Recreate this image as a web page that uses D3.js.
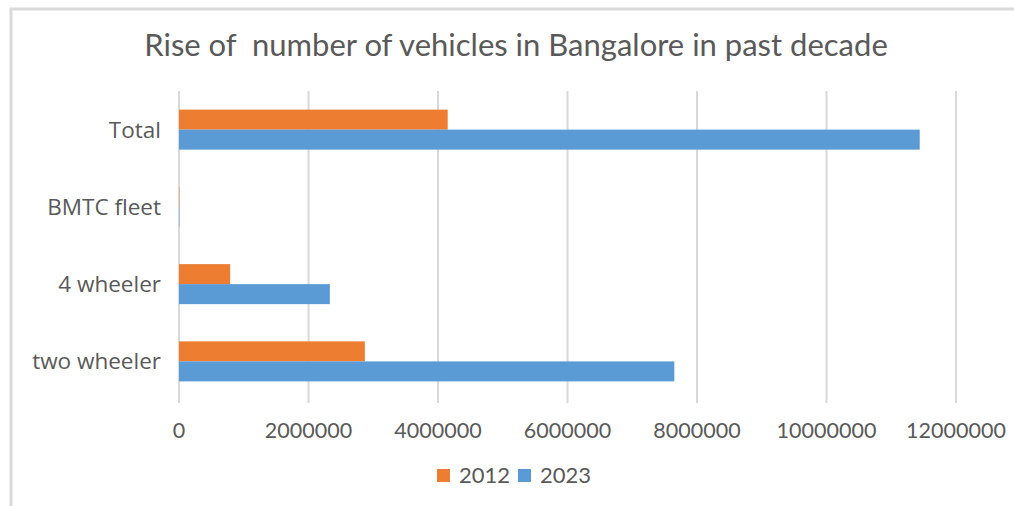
<!DOCTYPE html>
<html>
<head>
<meta charset="utf-8">
<script src="https://cdn.jsdelivr.net/npm/d3@7"></script>
<style>
  body { margin: 0; background: #fff; }
  text { font-family: Lato, "Open Sans", sans-serif; fill: #595959; }
</style>
</head>
<body>
<div id="chart"></div>
<script>
// Vehicle counts
const categories = ["Total", "BMTC fleet", "4 wheeler", "two wheeler"];
const seriesNames = ["2012", "2023"];
const values2012 = [4150000, 6400, 790000, 2870000];
const values2023 = [11440000, 6500, 2330000, 7650000];
const tickValues = [0, 2000000, 4000000, 6000000, 8000000, 10000000, 12000000];
const colors = ["#ED7D31", "#5B9BD5"];

const width = 1014;
const height = 506;
const margin = { top: 91, right: 58, bottom: 103, left: 179 };

const svg = d3.select("#chart")
    .append("svg")
    .attr("width", width)
    .attr("height", height);

// outer frame (only top and left edges visible)
svg.append("path")
    .attr("d", `M11,${height} V9 H${width}`)
    .attr("fill", "none")
    .attr("stroke", "#d9d9d9")
    .attr("stroke-width", 3);

const x = d3.scaleLinear()
    .domain([0, 12000000])
    .range([margin.left, width - margin.right]);

const y = d3.scaleBand()
    .domain(categories)
    .range([margin.top, 400])
    .paddingInner(0.482)
    .paddingOuter(0.241);

const ySub = d3.scaleBand()
    .domain(seriesNames)
    .range([0, y.bandwidth()]);

// gridlines
svg.append("g")
    .selectAll("line")
    .data(tickValues)
    .join("line")
    .attr("x1", d => x(d))
    .attr("x2", d => x(d))
    .attr("y1", margin.top)
    .attr("y2", height - margin.bottom)
    .attr("stroke", "#d9d9d9")
    .attr("stroke-width", 2);

// bars
const rows = categories.map((c, i) => ({ cat: c, vals: [values2012[i], values2023[i]] }));
const groups = svg.append("g")
    .selectAll("g")
    .data(rows)
    .join("g")
    .attr("transform", d => `translate(0,${y(d.cat)})`);

groups.selectAll("rect")
    .data(d => d.vals.map((v, j) => ({ v, s: seriesNames[j], j })))
    .join("rect")
    .attr("x", x(0))
    .attr("y", d => ySub(d.s))
    .attr("width", d => x(d.v) - x(0))
    .attr("height", ySub.bandwidth())
    .attr("fill", d => colors[d.j]);

// category labels
svg.append("g")
    .selectAll("text")
    .data(categories)
    .join("text")
    .attr("x", 161)
    .attr("y", d => y(d) + y.bandwidth() / 2)
    .attr("dy", "0.35em")
    .attr("text-anchor", "end")
    .style("font-family", "'Open Sans', sans-serif")
    .style("font-size", "22.5px")
    .text(d => d);

// x tick labels
svg.append("g")
    .selectAll("text")
    .data(tickValues)
    .join("text")
    .attr("x", d => x(d))
    .attr("y", 438)
    .attr("text-anchor", "middle")
    .style("font-size", "21.5px")
    .text(d => d3.format("d")(d));

// title
svg.append("text")
    .attr("x", 516)
    .attr("y", 56)
    .attr("text-anchor", "middle")
    .style("font-size", "31px")
    .style("white-space", "pre")
    .text("Rise of  number of vehicles in Bangalore in past decade");

// legend
const legend = svg.append("g").attr("transform", "translate(437,469)");
const legendItems = legend.selectAll("g")
    .data(seriesNames)
    .join("g")
    .attr("transform", (d, i) => `translate(${i * 81},0)`);
legendItems.append("rect")
    .attr("width", 13)
    .attr("height", 13)
    .attr("fill", (d, i) => colors[i]);
legendItems.append("text")
    .attr("x", 22)
    .attr("y", 14)
    .style("font-size", "22px")
    .text(d => d);
</script>
</body>
</html>
